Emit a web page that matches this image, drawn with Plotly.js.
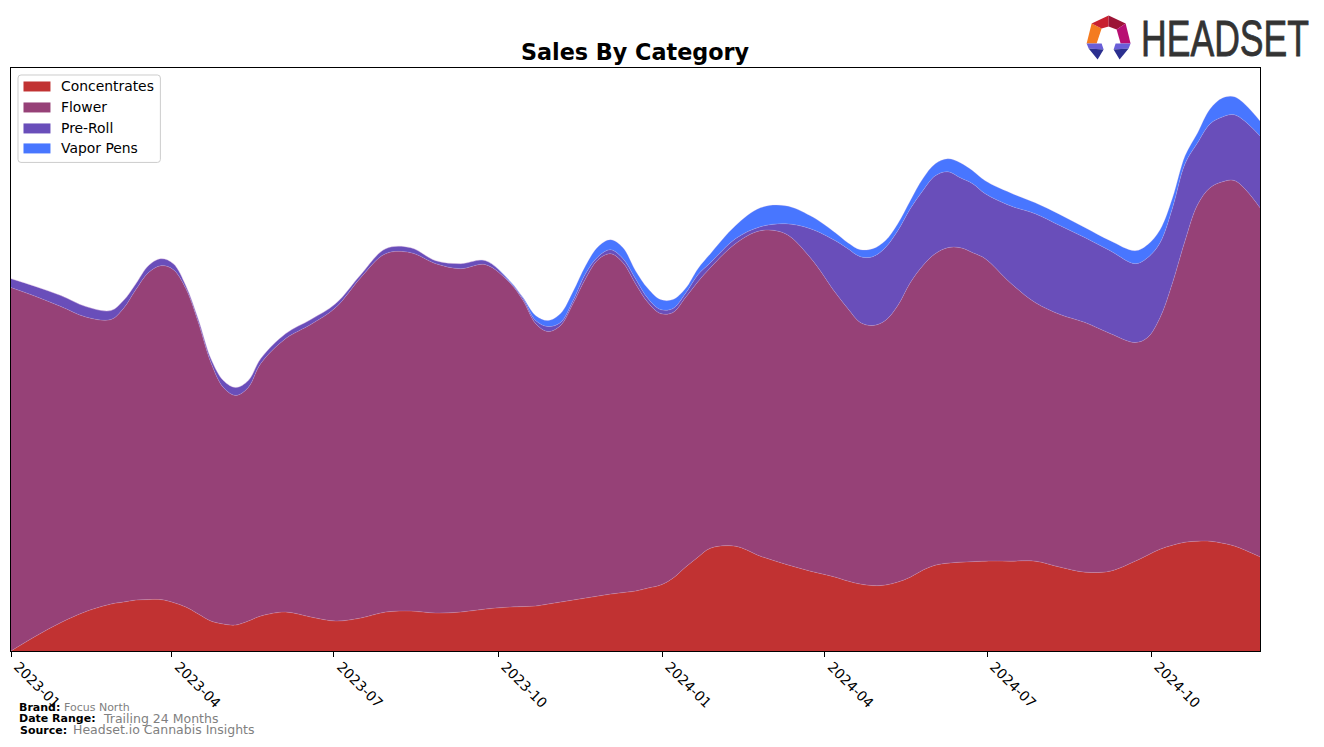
<!DOCTYPE html>
<html>
<head>
<meta charset="utf-8">
<script src="https://cdn.plot.ly/plotly-3.0.1.min.js"></script>
<style>html,body{margin:0;padding:0;background:#fff}#chart{width:1324px;height:747px}</style>
</head>
<body>
<div id="chart"></div>
<script>
const dates = ["2023-01-01","2023-01-15","2023-01-29","2023-02-12","2023-02-26","2023-03-05","2023-03-12","2023-03-19","2023-03-26","2023-04-02","2023-04-09","2023-04-16","2023-04-23","2023-04-30","2023-05-07","2023-05-14","2023-05-21",
"2023-06-04","2023-06-18","2023-07-02","2023-07-16","2023-07-30","2023-08-13","2023-08-27","2023-09-10","2023-09-24",
"2023-10-08","2023-10-15","2023-10-22","2023-10-29","2023-11-05","2023-11-12","2023-11-19","2023-11-26","2023-12-03","2023-12-10","2023-12-17","2023-12-24","2023-12-31","2024-01-07","2024-01-14","2024-01-21",
"2024-01-28","2024-02-11","2024-02-25","2024-03-10","2024-03-24","2024-04-07","2024-04-14","2024-04-21","2024-04-28","2024-05-05","2024-05-12","2024-05-19","2024-05-26","2024-06-02","2024-06-09","2024-06-16","2024-06-23",
"2024-06-30","2024-07-14","2024-07-28","2024-08-11","2024-08-25","2024-09-08","2024-09-22","2024-09-29","2024-10-06","2024-10-13","2024-10-20","2024-10-27","2024-11-03","2024-11-10","2024-11-17","2024-12-01"];
const concentrates = [0,15,28.5,39.5,47,49,51,51.5,51.5,48.5,44,37,30,27,26,30,35,
39,34,30,33,39,40,38,39,42,
44,44.5,45,47,49,51,53,55,57,58.5,60,63,66,73,84,94,
103,105,95,87,80,74,70,67,65.5,66,69,74,81,86,88,89,89.5,
90,90,90,84,79,80,90,96,102,106,109,110,110,108,105,94.3];
const flower = [364,340,316.5,295,285,294,311,327.5,334.5,333.5,319,292,259,237,230,234,253,
274,293,314,341,359,359,350,344,345,
324,306.5,283,273,277,297,320,337,341,330.5,308,286,272,266,270,276,
281,303,326,331,314,285,273,262,260.5,265,277,295,305,312,316,315,309.5,
303,279,259,253,250,238,219,218,232,263,302,337,354,362,366,349.7];
const preRoll = [9,10,11,10.5,9,8,6,7,7,6,3,3,4,7,8,7,5,
5,5,4,3,5,5,3,5,4,
1,2,3,5,3,3,5,3,4,4,5,4,4,4,4,7,
5,5,4,10,29,52,60,66,69,73,75,74,75,78,76,70,69,
65,77,89,89,85,83,79,80,75,75,77,62,64,65,66,72];
const vaporPens = [0,0,0,0,0,0,0,0,0,0,0,0,0,0,0,0,0,
0,0,0,0,0,0,0,0,0,
1,1,5,6,9,9,8,10,10,11,8,10,10,9,5,6,
9,13,19,18,13,8,6,7,8,7,7,8,12,12,13,15,13,
13,13,11,11,10,10,13,13,13,10,8,10,15,19,18,15];
const tickDates = ["2023-01-01","2023-04-01","2023-07-01","2023-10-01","2024-01-01","2024-04-01","2024-07-01","2024-10-01"];
const tickLabels = ["2023-01","2023-04","2023-07","2023-10","2024-01","2024-04","2024-07","2024-10"];
const seriesNames = ["Concentrates","Flower","Pre-Roll","Vapor Pens"];
const seriesColors = ["#c13232","#964177","#694eba","#4876ff"];
const seriesValues = [concentrates,flower,preRoll,vaporPens];

const FONT = '"DejaVu Sans", sans-serif';
const L=10.5,R=1260.5,T=67.5,B=651;
const px = x => (x-L)/(R-L);
const py = y => (B-y)/(B-T);

const traces = seriesNames.map((name,i)=>({
  type:'scatter', mode:'lines', name,
  x:dates, y:seriesValues[i],
  stackgroup:'one',
  fillcolor:seriesColors[i],
  line:{shape:'spline',smoothing:1,width:0.5,color:'rgba(225,190,225,0.45)'},
  hoverinfo:'x+y+name',
  showlegend:false
}));

function poly(points,color,line){
  const d = points.map((p,i)=>(i?'L':'M')+px(p[0]).toFixed(5)+','+py(p[1]).toFixed(5)).join(' ')+' Z';
  return {type:'path',xref:'paper',yref:'paper',path:d,fillcolor:color,line:line||{width:0},layer:'above'};
}
const logo = [
  poly([[1092,23],[1087,43],[1097,43],[1102,28]],'#f47b20'),
  poly([[1092,23],[1109,15],[1109,26],[1102,28]],'#c8202f'),
  poly([[1109,15],[1126,23],[1117,29],[1109,26]],'#9c1436'),
  poly([[1126,23],[1131,43],[1121,43],[1117,29]],'#b80f72'),
  poly([[1087,43],[1102,43],[1104,49],[1089,48]],'#6a5fd8'),
  poly([[1089,48],[1104,49],[1098,59]],'#2b2f8f'),
  poly([[1131,43],[1116,43],[1114,49],[1129,48]],'#6a5fd8'),
  poly([[1129,48],[1114,49],[1120,59]],'#2b2f8f')
];

function roundRect(x0,y0,x1,y1,r){
  const d=[['M',x0+r,y0],['L',x1-r,y0],['Q',x1,y0,x1,y0+r],['L',x1,y1-r],['Q',x1,y1,x1-r,y1],['L',x0+r,y1],['Q',x0,y1,x0,y1-r],['L',x0,y0+r],['Q',x0,y0,x0+r,y0]]
   .map(s=>{let o=s[0];for(let i=1;i<s.length;i+=2)o+=(i>1?' ':'')+px(s[i]).toFixed(5)+','+py(s[i+1]).toFixed(5);return o;}).join(' ')+' Z';
  return {type:'path',xref:'paper',yref:'paper',path:d,fillcolor:'rgba(255,255,255,0.9)',line:{color:'#cccccc',width:1},layer:'above'};
}
const legendY=[86,107,128,148];
const legendShapes=[roundRect(17.5,74.5,160,162,3)].concat(seriesNames.map((n,i)=>({
  type:'rect',xref:'paper',yref:'paper',x0:px(23),x1:px(50),y0:py(legendY[i]+5),y1:py(legendY[i]-5),
  fillcolor:seriesColors[i],line:{width:0},layer:'above'})));

function note(x,y,text,size,color,bold){
  return {xref:'paper',yref:'paper',x:px(x),y:py(y),xanchor:'left',yanchor:'middle',showarrow:false,
    text:bold?'<b>'+text+'</b>':text,font:{family:FONT,size,color},align:'left',
    borderpad:0,borderwidth:0};
}
const legendNotes=seriesNames.map((n,i)=>note(61,legendY[i],n,13.9,'#000',false));
const annotations = legendNotes.concat([
  note(19,707.5,'Brand:',11,'#000',true),
  note(64,707.5,'Focus North',11,'#808080',false),
  note(19,719,'Date Range:',11,'#000',true),
  note(103,718.5,'Trailing 24 Months',12.5,'#808080',false),
  note(19.5,730.5,'Source:',11,'#000',true),
  note(73,730,'Headset.io Cannabis Insights',12.5,'#808080',false),
  Object.assign(note(1141,38,'HEADSET',43,'#333333',false),{font:{family:'"Liberation Sans Narrow","Liberation Sans",sans-serif',size:43,color:'#333333'}})
]);

const layout = {
  width:1324,height:747,
  margin:{l:L,r:1324-R,t:T,b:747-B,pad:0},
  paper_bgcolor:'#fff',plot_bgcolor:'#fff',
  font:{family:FONT,size:14,color:'#000'},
  title:{text:'<b>Sales By Category</b>',font:{family:FONT,size:22.3,color:'#000'},x:(521+749)/2/1324,xanchor:'center',y:1-52/747,yanchor:'middle'},
  showlegend:false,
  xaxis:{type:'date',range:['2023-01-01','2024-12-01'],tickmode:'array',tickvals:tickDates,ticktext:tickLabels,tickangle:45,ticks:'outside',ticklen:5,tickwidth:1,tickcolor:'#000',showgrid:false,zeroline:false,showline:true,linecolor:'#000',linewidth:1,mirror:true,tickfont:{family:FONT,size:13.9,color:'#000'},ticklabelshift:7,ticklabelstandoff:-4},
  yaxis:{range:[0,584],showticklabels:false,ticks:'',showgrid:false,zeroline:false,showline:true,linecolor:'#000',linewidth:1,mirror:true},
  shapes:logo.concat(legendShapes),
  annotations
};
Plotly.newPlot('chart',traces,layout,{displayModeBar:false,responsive:false}).then(()=>{
  document.querySelectorAll('.annotation-text').forEach(t=>{
    if(t.textContent==='HEADSET'){
      t.setAttribute('textLength','168');t.setAttribute('lengthAdjust','spacingAndGlyphs');
      t.style.transformBox='fill-box';t.style.transformOrigin='center';t.style.transform='scaleY(1.16)';
      t.style.stroke='#333333';t.style.strokeWidth='0.7px';
    }
  });
});
</script>
</body>
</html>
